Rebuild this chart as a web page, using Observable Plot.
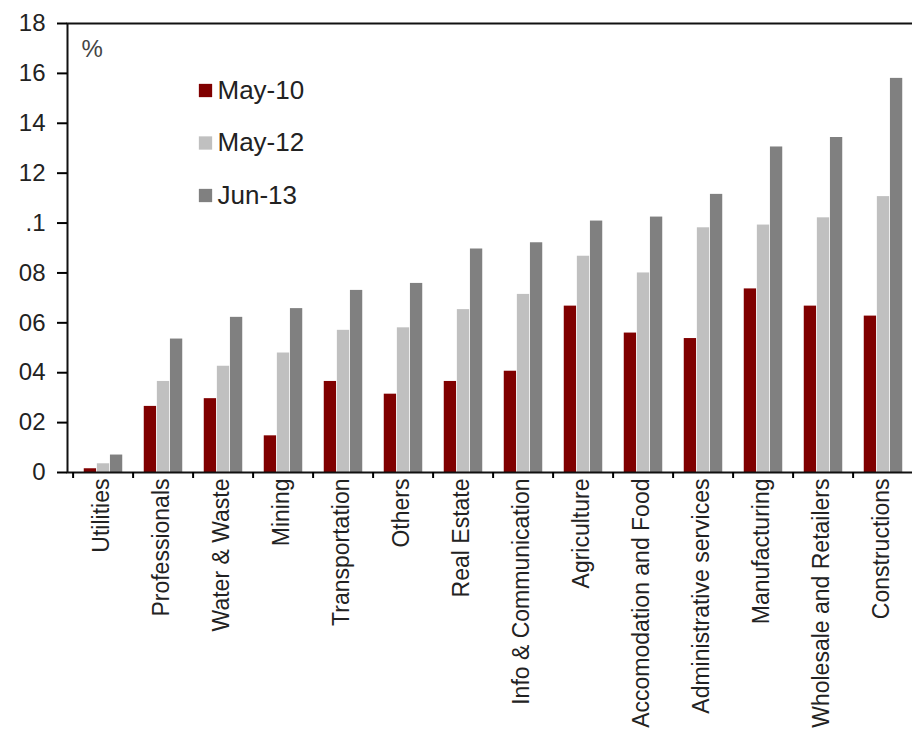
<!DOCTYPE html>
<html>
<head>
<meta charset="utf-8">
<script src="https://cdn.jsdelivr.net/npm/d3@7"></script>
<script src="https://cdn.jsdelivr.net/npm/@observablehq/plot@0.6"></script>
<style>
  html, body { margin: 0; padding: 0; background: #fff; overflow: hidden; }
  #chart svg { display: block; max-width: none; }
</style>
</head>
<body>
<div id="chart"></div>
<script>
const categories = ["Utilities","Professionals","Water & Waste","Mining","Transportation","Others","Real Estate","Info & Communication","Agriculture","Accomodation and Food","Administrative services","Manufacturing","Wholesale and Retailers","Constructions"];
const seriesNames = ["May-10","May-12","Jun-13"];
const seriesColors = ["#800000","#c0c0c0","#808080"];
const may10 = [0.15,2.65,2.96,1.47,3.65,3.14,3.65,4.06,6.67,5.59,5.37,7.36,6.67,6.27];
const may12 = [0.35,3.65,4.26,4.79,5.70,5.80,6.53,7.14,8.67,8.00,9.81,9.92,10.21,11.06];
const jun13 = [0.70,5.35,6.22,6.57,7.30,7.58,8.96,9.21,10.08,10.24,11.15,13.05,13.43,15.80];
const yTicks = [0,2,4,6,8,10,12,14,16,18];
const yTickLabels = ["0","02","04","06","08",".1","12","14","16","18"];
const unitLabel = "%";

const seriesValues = [may10, may12, jun13];
const W = 912, H = 735;
const mL = 67, mR = -6;
const step = (W - mL - mR) / categories.length;
const outer = step * 0.177;
const barW = (step - 2 * outer) / 3;

const marks = [];
seriesValues.forEach((vals, s) => {
  const rows = categories.map((c, i) => ({category: c, value: vals[i]}));
  marks.push(Plot.barY(rows, {
    x: "category", y: "value", fill: seriesColors[s],
    insetLeft: outer + barW * s, insetRight: outer + barW * (2 - s)
  }));
});
marks.push(Plot.frame({stroke: "#111", strokeWidth: 2}));
marks.push(Plot.axisY({
  ticks: yTicks, tickFormat: d => yTickLabels[yTicks.indexOf(d)],
  tickSize: 10, tickPadding: 12, fontSize: 24, strokeWidth: 2, label: null, fill: "#222"
}));
marks.push(Plot.axisX({
  tickSize: 0, tickPadding: 6, tickRotate: -90, fontSize: 23, label: null, fill: "#222", dx: -2
}));
marks.push(Plot.axisX({
  tickSize: 6, tickFormat: () => "", dx: -step / 2, strokeWidth: 2, label: null
}));
marks.push(Plot.text([unitLabel], {
  frameAnchor: "top-left", dx: 14, dy: 26, text: d => d, textAnchor: "start", lineAnchor: "middle", fontSize: 24, fill: "#444"
}));
seriesNames.forEach((name, s) => {
  const dy = 67 + 52.5 * s;
  marks.push(Plot.dot([name], {
    frameAnchor: "top-left", dx: 138, dy, symbol: "square", r: 7.5, fill: seriesColors[s], stroke: null
  }));
  marks.push(Plot.text([name], {
    frameAnchor: "top-left", dx: 150, dy, text: d => d, textAnchor: "start", lineAnchor: "middle", fontSize: 26, fill: "#222"
  }));
});

const chart = Plot.plot({
  width: W, height: H,
  marginLeft: mL, marginRight: mR, marginTop: 23, marginBottom: H - 472,
  style: {fontFamily: "'Liberation Sans', Arial, sans-serif", background: "#fff", overflow: "visible"},
  x: {domain: categories, padding: 0, axis: null},
  y: {domain: [0, 18], axis: null},
  marks
});
document.getElementById("chart").appendChild(chart);
</script>
</body>
</html>
